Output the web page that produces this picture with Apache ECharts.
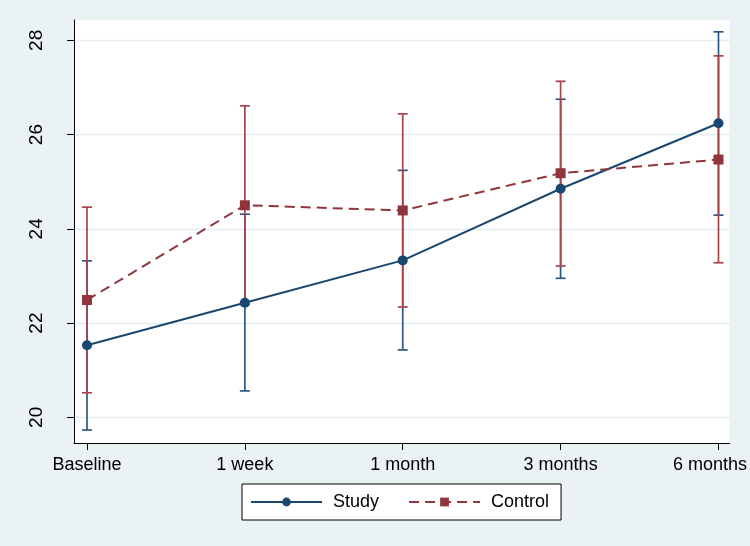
<!DOCTYPE html>
<html><head><meta charset="utf-8">
<script src="https://cdn.jsdelivr.net/npm/echarts@6/dist/echarts.min.js"></script>
<style>html,body{margin:0;padding:0;background:#eaf2f3}#c{width:750px;height:546px}</style>
</head><body><div id="c"></div>
<script>
const categories = ['Baseline', '1 week', '1 month', '3 months', '6 months'];
const studyMean = [21.53, 22.43, 23.33, 24.85, 26.24];
const studyLow = [19.73, 20.56, 21.43, 22.95, 24.29];
const studyHigh = [23.32, 24.31, 25.24, 26.75, 28.18];
const controlMean = [22.49, 24.50, 24.39, 25.18, 25.47];
const controlLow = [20.52, 22.39, 22.34, 23.21, 23.28];
const controlHigh = [24.46, 26.61, 26.44, 27.13, 27.67];
const yTicks = [20, 22, 24, 26, 28];
const xTicks = [0, 1, 2, 3, 4];

const FONT = "'Liberation Sans', Arial, sans-serif";
const BLUE = '#1a476f', RED = '#90353b';

function ciSeries(name, low, high, color, z) {
  return {
    type: 'custom', name: name, z: z, silent: true,
    data: low.map((l, i) => [i, l, high[i]]),
    encode: { x: 0, y: [1, 2] },
    renderItem: function (params, api) {
      const x = api.value(0);
      const lo = api.coord([x, api.value(1)]);
      const hi = api.coord([x, api.value(2)]);
      const hw = 5;
      const st = { stroke: color, lineWidth: 1.7 };
      return { type: 'group', children: [
        { type: 'line', shape: { x1: lo[0], y1: lo[1], x2: hi[0], y2: hi[1] }, style: st },
        { type: 'line', shape: { x1: lo[0] - hw, y1: lo[1], x2: lo[0] + hw, y2: lo[1] }, style: st },
        { type: 'line', shape: { x1: hi[0] - hw, y1: hi[1], x2: hi[0] + hw, y2: hi[1] }, style: st }
      ] };
    }
  };
}

const chart = echarts.init(document.getElementById('c'));
chart.setOption({
  animation: false,
  backgroundColor: '#eaf2f3',
  textStyle: { fontFamily: FONT },
  grid: { left: 74, top: 20, width: 656, height: 423, show: true, backgroundColor: '#ffffff', borderWidth: 0 },
  legend: {
    data: ['Study', 'Control'],
    left: 242, top: 484,
    padding: [9, 12, 9, 8],
    itemGap: 29, itemWidth: 71, itemHeight: 11,
    backgroundColor: '#ffffff', borderColor: '#000000', borderWidth: 1,
    textStyle: { fontSize: 18, color: '#000', fontFamily: FONT, padding: [0, 0, 0, 6] }
  },
  xAxis: {
    type: 'value', min: -0.0823, max: 4.0696,
    axisLine: { show: true, onZero: false, lineStyle: { color: '#000', width: 1 } },
    axisTick: { show: true, customValues: xTicks, length: 7, lineStyle: { color: '#000' } },
    axisLabel: {
      customValues: xTicks, margin: 13, fontSize: 18, color: '#000', fontFamily: FONT,
      formatter: function (v) {
        const i = Math.round(v);
        return i === categories.length - 1 ? '{last|' + categories[i] + '}' : categories[i];
      },
      rich: { last: { fontSize: 18, color: '#000', fontFamily: FONT, padding: [0, 17, 0, 0] } }
    },
    splitLine: { show: false }
  },
  yAxis: {
    type: 'value', min: 19.455, max: 28.431,
    axisLine: { show: true, onZero: false, lineStyle: { color: '#000', width: 1 } },
    axisTick: { show: true, customValues: yTicks, length: 7, lineStyle: { color: '#000' } },
    axisLabel: { customValues: yTicks, rotate: 90, margin: 28, fontSize: 19, color: '#000', fontFamily: FONT },
    splitLine: { show: true, lineStyle: { color: '#e4eef0', width: 1.3 } }
  },
  series: [
    ciSeries('StudyCI', studyLow, studyHigh, '#2a5883', 1),
    ciSeries('ControlCI', controlLow, controlHigh, '#a8434b', 2),
    {
      type: 'line', name: 'Study', z: 3,
      data: studyMean.map((v, i) => [i, v]),
      symbol: 'circle', symbolSize: 10,
      lineStyle: { color: BLUE, width: 2 },
      itemStyle: { color: BLUE }
    },
    {
      type: 'line', name: 'Control', z: 4,
      data: controlMean.map((v, i) => [i, v]),
      symbol: 'rect', symbolSize: 10,
      lineStyle: { color: RED, width: 2, type: [10, 6] },
      itemStyle: { color: RED }
    }
  ]
});
</script>
</body></html>
